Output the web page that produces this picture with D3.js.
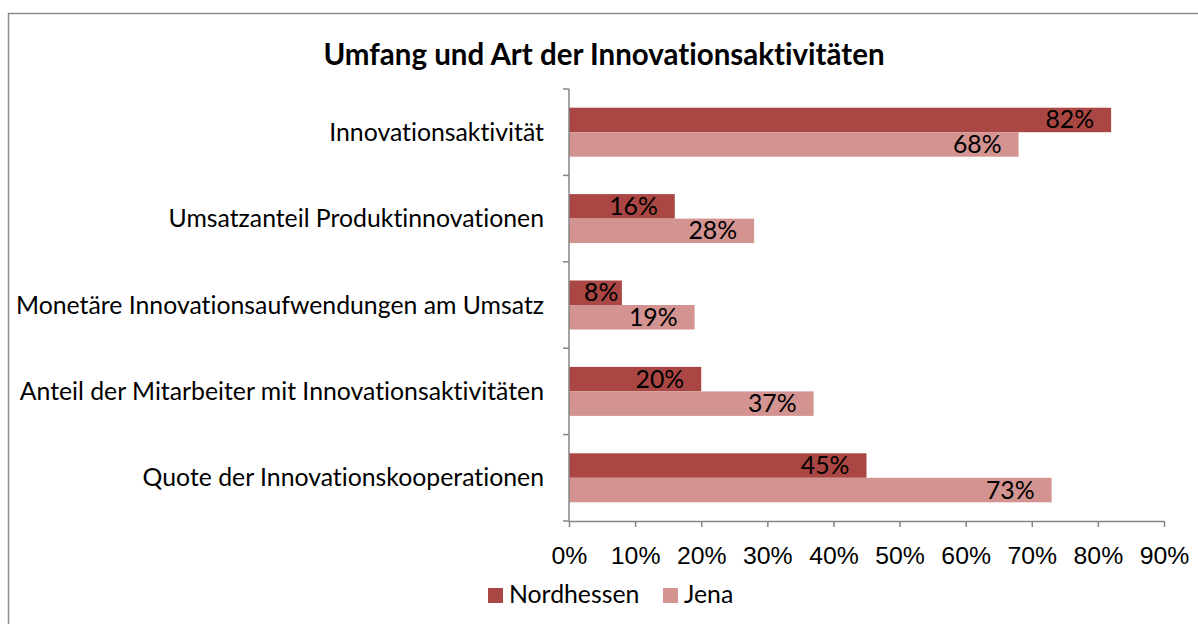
<!DOCTYPE html>
<html>
<head>
<meta charset="utf-8">
<script src="https://cdn.jsdelivr.net/npm/d3@7"></script>
<style>
  body { margin: 0; background: #fff; }
  svg { display: block; font-family: Lato, 'Open Sans', sans-serif; font-variant-ligatures: none; font-feature-settings: "liga" 0, "clig" 0; }
</style>
</head>
<body>
<div id="chart"></div>
<script>
const categories = [
  'Innovationsaktivität',
  'Umsatzanteil Produktinnovationen',
  'Monetäre Innovationsaufwendungen am Umsatz',
  'Anteil der Mitarbeiter mit Innovationsaktivitäten',
  'Quote der Innovationskooperationen',
];
const seriesNames = ['Nordhessen', 'Jena'];
const nordhessen = [82, 16, 8, 20, 45];
const jena = [68, 28, 19, 37, 73];
const xTicks = [0, 10, 20, 30, 40, 50, 60, 70, 80, 90];
const title = 'Umfang und Art der Innovationsaktivitäten';

const attrs = {
  svgWidth: 1198,
  svgHeight: 624,
  plotLeft: 569,
  plotRight: 1164,
  plotTop: 89,
  plotBottom: 521,
  colors: ['#aa4643', '#d39391'],
  axisColor: '#868686',
  fontSize: 24.8,
  titleSize: 29.5,
};

const seriesValues = [nordhessen, jena];
const rows = categories.map((c, i) => ({
  category: c,
  values: seriesNames.map((s, j) => ({ series: s, value: seriesValues[j][i], idx: j })),
}));

const svg = d3.select('#chart').append('svg')
  .attr('width', attrs.svgWidth)
  .attr('height', attrs.svgHeight);

// Chart border, runs off the right and bottom edge.
svg.append('rect')
  .attr('x', 8.5)
  .attr('y', 13.5)
  .attr('width', attrs.svgWidth)
  .attr('height', attrs.svgHeight)
  .attr('fill', 'none')
  .attr('stroke', '#8c8c8c')
  .attr('stroke-width', 1.5);

// Title.
svg.append('text')
  .attr('x', 604)
  .attr('y', 65)
  .attr('text-anchor', 'middle')
  .attr('font-weight', 'bold')
  .attr('font-size', attrs.titleSize)
  .text(title);

// Scales.
const x = d3.scaleLinear()
  .domain([0, 90])
  .range([attrs.plotLeft, attrs.plotRight]);

const y0 = d3.scaleBand()
  .domain(categories)
  .range([attrs.plotTop, attrs.plotBottom])
  .paddingInner(0.433)
  .paddingOuter(0.2165);

const y1 = d3.scaleBand()
  .domain(seriesNames)
  .range([0, y0.bandwidth()]);

// Bars.
const groups = svg.append('g').selectAll('g')
  .data(rows)
  .join('g')
  .attr('transform', d => 'translate(0,' + y0(d.category) + ')');

groups.selectAll('rect')
  .data(d => d.values)
  .join('rect')
  .attr('x', x(0))
  .attr('y', d => y1(d.series))
  .attr('width', d => x(d.value) - x(0))
  .attr('height', y1.bandwidth())
  .attr('fill', d => attrs.colors[d.idx]);

// Data labels, inside end.
groups.selectAll('text')
  .data(d => d.values)
  .join('text')
  .attr('y', d => y1(d.series) + y1.bandwidth() / 2 + 8.5)
  .attr('text-anchor', 'end')
  .attr('font-size', attrs.fontSize)
  .text(d => d.value + '%')
  .each(function (d) {
    const w = this.getComputedTextLength();
    const xe = Math.max(x(d.value) - 17, x(0) + 15 + w);
    d3.select(this).attr('x', xe);
  });

// Y axis.
const yAxis = svg.append('g')
  .attr('transform', 'translate(' + attrs.plotLeft + ',0)');
yAxis.append('line')
  .attr('y1', attrs.plotTop)
  .attr('y2', attrs.plotBottom)
  .attr('stroke', attrs.axisColor)
  .attr('stroke-width', 1.5);
const boundaries = d3.range(categories.length + 1)
  .map(i => attrs.plotTop + i * y0.step());
yAxis.selectAll('.cat-tick')
  .data(boundaries)
  .join('line')
  .attr('class', 'cat-tick')
  .attr('x1', -6)
  .attr('x2', 0)
  .attr('y1', d => d)
  .attr('y2', d => d)
  .attr('stroke', attrs.axisColor)
  .attr('stroke-width', 1.5);
yAxis.selectAll('.cat-label')
  .data(categories)
  .join('text')
  .attr('class', 'cat-label')
  .attr('x', -25)
  .attr('y', d => y0(d) + y0.bandwidth() / 2 + 8.5)
  .attr('text-anchor', 'end')
  .attr('font-size', attrs.fontSize)
  .text(d => d);

// X axis.
const xAxis = d3.axisBottom(x)
  .tickValues(xTicks)
  .tickFormat(d => d + '%')
  .tickSizeInner(6)
  .tickSizeOuter(0)
  .tickPadding(19);

const xg = svg.append('g')
  .attr('transform', 'translate(0,' + attrs.plotBottom + ')')
  .call(xAxis);
xg.select('.domain').attr('stroke', attrs.axisColor).attr('stroke-width', 1.5);
xg.selectAll('.tick line').attr('stroke', attrs.axisColor).attr('stroke-width', 1.5);
xg.selectAll('.tick text')
  .attr('font-size', attrs.fontSize)
  .attr('font-family', 'inherit')
  .attr('fill', '#000');

// Legend.
const legendX = [488, 663];
const legend = svg.append('g').selectAll('g')
  .data(seriesNames)
  .join('g')
  .attr('transform', (d, i) => 'translate(' + legendX[i] + ',588)');
legend.append('rect')
  .attr('width', 15)
  .attr('height', 15)
  .attr('fill', (d, i) => attrs.colors[i]);
legend.append('text')
  .attr('x', 21)
  .attr('y', 15)
  .attr('font-size', attrs.fontSize)
  .text(d => d);
</script>
</body>
</html>
